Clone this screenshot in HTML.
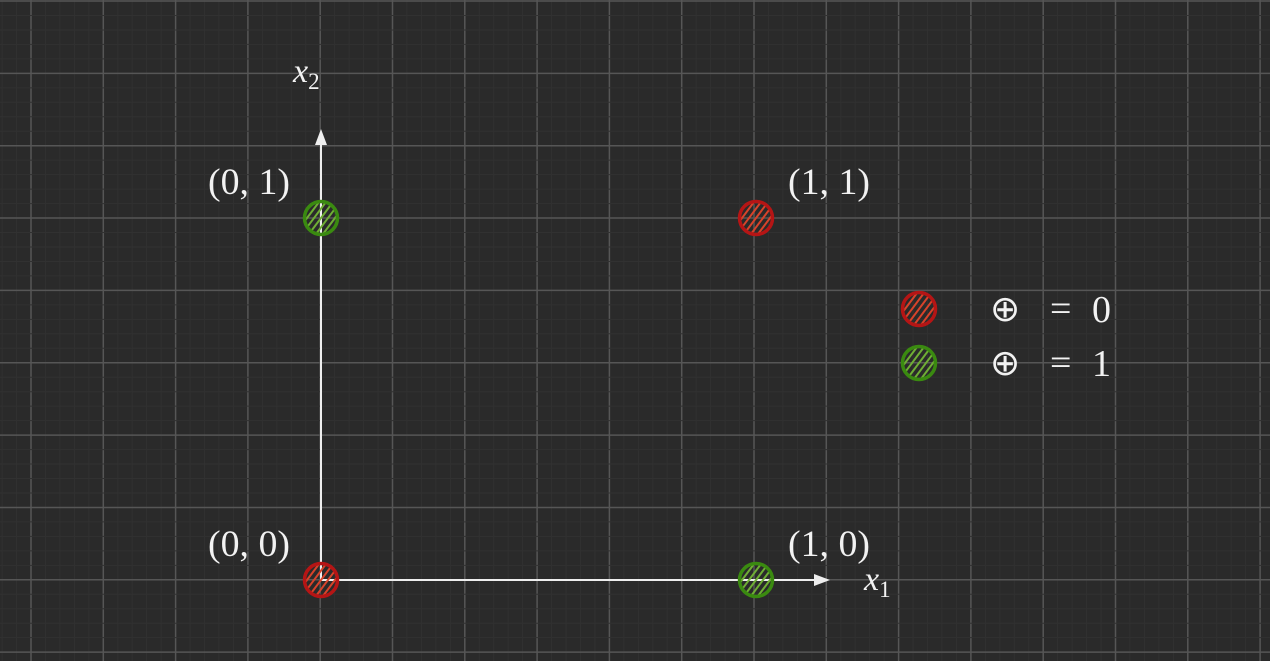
<!DOCTYPE html>
<html><head><meta charset="utf-8"><style>
html,body{margin:0;padding:0;background:#2a2a2a;}
svg{display:block;}
text{font-family:"Liberation Serif",serif;fill:#f2f2f2;}
</style></head><body>
<svg id="chart" width="1270" height="661" viewBox="0 0 1270 661">
<rect width="1270" height="661" fill="#2a2a2a"/>
<g id="grid"></g>
<g id="axes">
 <line x1="321" y1="580" x2="321" y2="140" stroke="#eee" stroke-width="2"/>
 <path d="M315,145 L321,129 L327,145 Z" fill="#eee"/>
 <line x1="321" y1="580" x2="818" y2="580" stroke="#eee" stroke-width="2"/>
 <path d="M814,574 L830,580 L814,586 Z" fill="#eee"/>
 <text x="293" y="82" font-size="34" font-style="italic">x<tspan font-size="23" font-style="normal" dy="7">2</tspan></text>
 <text x="864" y="590" font-size="34" font-style="italic">x<tspan font-size="23" font-style="normal" dy="7">1</tspan></text>
</g>
<g id="points"></g>
<g id="legend"></g>
</svg>
<script>
const xs = [0, 1, 0, 1];
const ys = [0, 0, 1, 1];
const outs = [0, 1, 1, 0];
const pointLabels = ["(0, 0)", "(1, 0)", "(0, 1)", "(1, 1)"];
const legendValues = [0, 1];
const NS = "http://www.w3.org/2000/svg";
const sx = v => 321 + v * 435;
const sy = v => 580 - v * 362;
const colors = {0: {s: "#b51515", h: "#d8432a"}, 1: {s: "#3a8a10", h: "#6fae35"}};
function mk(tag, attrs, parent) { const e = document.createElementNS(NS, tag); for (const k in attrs) e.setAttribute(k, attrs[k]); parent.appendChild(e); return e; }
const grid = document.getElementById('grid');
for (let i = -30; i < 100; i++) {
  const x = 31 + i * 14.46;
  if (x < 0 || x > 1270) continue;
  const major = ((i % 5) + 5) % 5 === 0;
  const l = mk('line', {x1: x, y1: 0, x2: x, y2: 661, stroke: major ? '#565656' : '#313131', 'stroke-width': major ? 1.5 : 1}, grid);
  
  
}
for (let i = 0; i < 50; i++) {
  const y = 1 + i * 14.47;
  if (y > 661) continue;
  const major = i % 5 === 0;
  const l = mk('line', {x1: 0, y1: y, x2: 1270, y2: y, stroke: major ? '#565656' : '#313131', 'stroke-width': major ? 1.5 : 1}, grid);
  
  
}
let cid = 0;
function blob(cx, cy, c, parent, name) {
  const g = mk('g', {}, parent);
  
  
  const id = 'clip' + (cid++);
  const cp = mk('clipPath', {id: id}, g);
  mk('circle', {cx: cx, cy: cy, r: 16}, cp);
  const hg = mk('g', {'clip-path': 'url(#' + id + ')'}, g);
  for (let k = -3; k <= 3; k++) {
    const o = k * 7;
    mk('line', {x1: cx - 12 + o, y1: cy + 16, x2: cx + 12 + o, y2: cy - 16, stroke: c.h, 'stroke-width': 2}, hg);
  }
  mk('circle', {cx: cx, cy: cy, r: 16.5, fill: 'none', stroke: c.s, 'stroke-width': 3.5}, g);
}
const pts = document.getElementById('points');
for (let i = 0; i < xs.length; i++) {
  const cx = sx(xs[i]), cy = sy(ys[i]);
  blob(cx, cy, colors[outs[i]], pts, 'point-' + xs[i] + '-' + ys[i]);
  const t = mk('text', {x: xs[i] === 0 ? cx - 113 : cx + 32, y: cy - 24, 'font-size': 37, textLength: 82, lengthAdjust: 'spacingAndGlyphs'}, pts);
  t.textContent = pointLabels[i];
  
  
}
const lg = document.getElementById('legend');
legendValues.forEach((v, i) => {
  const y = 309 + i * 54;
  blob(919, y, colors[v], lg, 'legend-marker-' + v);
  const t1 = mk('text', {x: 990, y: y + 12, 'font-size': 36}, lg);
  t1.textContent = '⊕';
  
  
  const t2 = mk('text', {x: 1050, y: y + 12, 'font-size': 38}, lg);
  t2.textContent = '=';
  
  
  const t3 = mk('text', {x: 1092, y: y + 13, 'font-size': 38}, lg);
  t3.textContent = String(v);
  
  
});
</script>
</body></html>
